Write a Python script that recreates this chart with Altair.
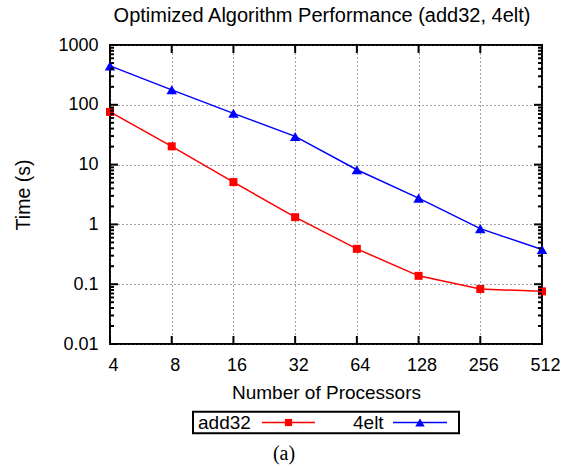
import altair as alt
import pandas as pd

# ---- data ----
procs = [4, 8, 16, 32, 64, 128, 256, 512]
add32_time = [76, 20.2, 5.1, 1.32, 0.39, 0.138, 0.083, 0.076]
elt4_time = [447, 178, 72, 29.6, 8.2, 2.75, 0.85, 0.38]
series_names = ["add32", "4elt"]
series_colors = ["#ff0000", "#0000ff"]
series_shapes = ["square", "triangle-up"]
series_sizes = [64, 110]
y_major = [0.01, 0.1, 1, 10, 100, 1000]
y_minor = [2e-2, 3e-2, 4e-2, 5e-2, 6e-2, 7e-2, 8e-2, 9e-2,
           0.2, 0.3, 0.4, 0.5, 0.6, 0.7, 0.8, 0.9,
           2, 3, 4, 5, 6, 7, 8, 9,
           20, 30, 40, 50, 60, 70, 80, 90,
           200, 300, 400, 500, 600, 700, 800, 900]
caption = ["(a)"]

W, H = 432, 299
FONT = "Liberation Sans"

df = pd.DataFrame({
    "procs": procs * 2,
    "time": add32_time + elt4_time,
    "series": ["add32"] * len(procs) + ["4elt"] * len(procs),
})

xscale = alt.Scale(type="log", base=2, domain=[4, 512], nice=False)
yscale = alt.Scale(type="log", domain=[0.01, 1000], nice=False)
cscale = alt.Scale(domain=series_names, range=series_colors)

x_enc = alt.X(
    "procs:Q", scale=xscale,
    axis=alt.Axis(
        values=procs, format="d", title="Number of Processors",
        grid=True, gridDash=[1, 3], gridColor="#444", gridWidth=1,
        tickSize=0, domain=False, labelPadding=12, labelFlush=False, labelOffset=3,
        labelOverlap=False, labelFont=FONT, labelFontSize=18, labelColor="black",
        titleFont=FONT, titleFontSize=19, titleFontWeight="normal",
        titleColor="black", titlePadding=9,
    ),
)
y_enc = alt.Y(
    "time:Q", scale=yscale,
    axis=alt.Axis(
        values=y_major, labelExpr="'' + datum.value", title="Time (s)",
        grid=True, gridDash=[1, 3], gridColor="#444", gridWidth=1,
        tickSize=0, domain=False, labelPadding=12, labelFlush=False,
        labelOverlap=False, labelFont=FONT, labelFontSize=18, labelColor="black",
        titleFont=FONT, titleFontSize=19.5, titleFontWeight="normal",
        titleColor="black", titlePadding=24,
    ),
)

lines = alt.Chart(df).mark_line(strokeWidth=1.5).encode(
    x=x_enc, y=y_enc,
    color=alt.Color("series:N", scale=cscale, legend=None),
)
points = alt.Chart(df).mark_point(filled=True, opacity=1, strokeWidth=0).encode(
    x=alt.X("procs:Q", scale=xscale),
    y=alt.Y("time:Q", scale=yscale),
    color=alt.Color("series:N", scale=cscale, legend=None),
    shape=alt.Shape("series:N", scale=alt.Scale(domain=series_names, range=series_shapes), legend=None),
    size=alt.Size("series:N", scale=alt.Scale(domain=series_names, range=series_sizes), legend=None),
)

ymaj_df = pd.DataFrame({"v": y_major})
ymin_df = pd.DataFrame({"v": y_minor})
xmaj_df = pd.DataFrame({"v": procs})

def yticks(data, x0, x1):
    return alt.Chart(data).mark_rule(color="black", strokeWidth=2).encode(
        y=alt.Y("v:Q", scale=yscale), x=alt.value(x0), x2=alt.value(x1))

def xticks(data, y0, y1):
    return alt.Chart(data).mark_rule(color="black", strokeWidth=2).encode(
        x=alt.X("v:Q", scale=xscale), y=alt.value(y0), y2=alt.value(y1))

ticks = [
    yticks(ymaj_df, 0, 8), yticks(ymaj_df, W - 8, W),
    yticks(ymin_df, 0, 4), yticks(ymin_df, W - 4, W),
    xticks(xmaj_df, H - 8, H), xticks(xmaj_df, 0, 8),
]

# ---- key box below the axis title (gnuplot style: label, then sample) ----
KEY_Y = 377.5
key_items = []
key_df = pd.DataFrame({"k": [0]})
key_box = alt.Chart(key_df).mark_rect(
    fill="white", stroke="black", strokeWidth=2
).encode(x=alt.value(83), x2=alt.value(349), y=alt.value(366.7), y2=alt.value(388.3))
key_items.append(key_box)
label_x = [88, 243]
line_x = [(152, 205), (283, 337)]
for i, name in enumerate(series_names):
    sdf = pd.DataFrame({"series": [name]})
    key_items.append(
        alt.Chart(sdf).mark_text(font=FONT, fontSize=19, color="black",
                                 align="left", baseline="middle")
        .encode(text="series:N", x=alt.value(label_x[i]), y=alt.value(KEY_Y))
    )
    key_items.append(
        alt.Chart(sdf).mark_rule(strokeWidth=1.5, color=series_colors[i])
        .encode(x=alt.value(line_x[i][0]), x2=alt.value(line_x[i][1]), y=alt.value(KEY_Y))
    )
    key_items.append(
        alt.Chart(sdf).mark_point(filled=True, opacity=1, strokeWidth=0,
                                  color=series_colors[i], shape=series_shapes[i],
                                  size=series_sizes[i] * 0.8)
        .encode(x=alt.value((line_x[i][0] + line_x[i][1]) / 2), y=alt.value(KEY_Y))
    )

cap = alt.Chart(pd.DataFrame({"t": caption})).mark_text(
    font="Liberation Serif", fontSize=20, color="black", baseline="middle", align="center"
).encode(text="t:N", x=alt.value(174), y=alt.value(409))

chart = alt.layer(lines, points, *ticks, *key_items, cap).properties(
    width=W, height=H,
    title=alt.TitleParams(
        "Optimized Algorithm Performance (add32, 4elt)",
        font=FONT, fontSize=20, fontWeight="normal", color="black",
        anchor="middle", dx=-4, dy=23, offset=17, baseline="alphabetic",
    ),
    autosize=alt.AutoSizeParams(type="none"),
    padding={"left": 110, "top": 45, "right": 28, "bottom": 122},
).configure_view(stroke="black", strokeWidth=2)

chart.save("out.html", embed_options={"renderer": "svg", "actions": False})
